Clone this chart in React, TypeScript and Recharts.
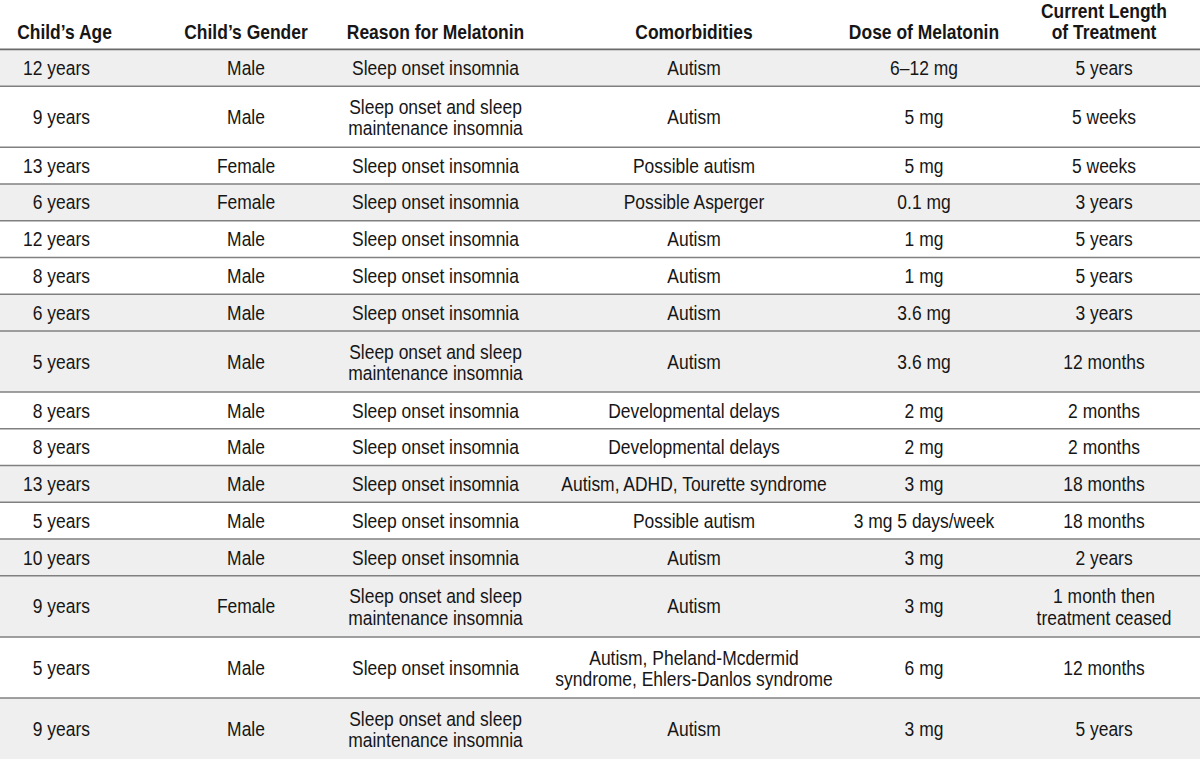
import React from 'react';
import { ComposedChart, XAxis, YAxis, Scatter, ReferenceArea, ReferenceLine } from 'recharts';

// ---- Table content ----
const headers = [
  'Child\u2019s Age',
  'Child\u2019s Gender',
  'Reason for Melatonin',
  'Comorbidities',
  'Dose of Melatonin',
  'Current Length\nof Treatment',
];

const ages = [
  '12 years', '9 years', '13 years', '6 years', '12 years', '8 years', '6 years', '5 years',
  '8 years', '8 years', '13 years', '5 years', '10 years', '9 years', '5 years', '9 years',
];

const genders = [
  'Male', 'Male', 'Female', 'Female', 'Male', 'Male', 'Male', 'Male',
  'Male', 'Male', 'Male', 'Male', 'Male', 'Female', 'Male', 'Male',
];

const SOI = 'Sleep onset insomnia';
const SOSM = 'Sleep onset and sleep\nmaintenance insomnia';
const reasons = [
  SOI, SOSM, SOI, SOI, SOI, SOI, SOI, SOSM,
  SOI, SOI, SOI, SOI, SOI, SOSM, SOI, SOSM,
];

const comorbidities = [
  'Autism', 'Autism', 'Possible autism', 'Possible Asperger', 'Autism', 'Autism', 'Autism', 'Autism',
  'Developmental delays', 'Developmental delays', 'Autism, ADHD, Tourette syndrome', 'Possible autism',
  'Autism', 'Autism', 'Autism, Pheland-Mcdermid\nsyndrome, Ehlers-Danlos syndrome', 'Autism',
];

const doses = [
  '6\u201312 mg', '5 mg', '5 mg', '0.1 mg', '1 mg', '1 mg', '3.6 mg', '3.6 mg',
  '2 mg', '2 mg', '3 mg', '3 mg 5 days/week', '3 mg', '3 mg', '6 mg', '3 mg',
];

const lengths = [
  '5 years', '5 weeks', '5 weeks', '3 years', '5 years', '5 years', '3 years', '12 months',
  '2 months', '2 months', '18 months', '18 months', '2 years', '1 month then\ntreatment ceased',
  '12 months', '5 years',
];

const rowShaded = [
  true, false, false, true, false, false, true, true,
  false, false, true, false, true, true, false, true,
];

const columns = [ages, genders, reasons, comorbidities, doses, lengths];

// ---- Layout ----
const W = 1200;
const H = 759;
const HEADER_H = 49.4;
const ROW_PAD = 12.4;
const ROW_LINE = 24.35;
const TEXT_GAP = 21.7;
const HEAD_GAP = 21.3;
const FONT = 19.5;
const SX = 0.895; // horizontal condensing
const COL_X = [64.5, 246, 435.5, 694, 924, 1104];
const COL_DATA_X = [90, 246, 435.5, 694, 924, 1104];
const COL_ANCHOR = ['end', 'middle', 'middle', 'middle', 'middle', 'middle'];

const TEXT_COLOR = '#161616';
const SHADE = '#efefef';
const RULE = '#808080';

const lineCounts = ages.map((_, i) =>
  Math.max(...columns.map((c) => c[i].split('\n').length))
);
const rowStarts: number[] = [];
const rowEnds: number[] = [];
{
  let y = HEADER_H;
  lineCounts.forEach((n) => {
    rowStarts.push(y);
    y += ROW_PAD + n * ROW_LINE;
    rowEnds.push(y);
  });
}

const cellData = columns.map((col, ci) =>
  col.map((text, ri) => ({
    x: COL_DATA_X[ci],
    y: (rowStarts[ri] + rowEnds[ri]) / 2,
    text,
  }))
);

const headerData = headers.map((text, ci) => ({ x: COL_X[ci], y: HEADER_H, text }));

const CellText = (anchor: string) => (props: any) => {
  const { cx, cy, payload } = props;
  const lines: string[] = payload.text.split('\n');
  const n = lines.length;
  const off = n > 1 ? 7.9 : 7.1;
  return (
    <g transform={`translate(${cx} 0) scale(${SX} 1)`}>
      <text textAnchor={anchor} fill={TEXT_COLOR} fontSize={FONT}>
        {lines.map((l, i) => (
          <tspan key={i} x={0} y={cy + off + (i - (n - 1) / 2) * TEXT_GAP}>
            {l}
          </tspan>
        ))}
      </text>
    </g>
  );
};

const HeaderText = (props: any) => {
  const { cx, cy, payload } = props;
  const lines: string[] = payload.text.split('\n');
  const n = lines.length;
  return (
    <g transform={`translate(${cx} 0) scale(${SX} 1)`}>
      <text textAnchor="middle" fill={TEXT_COLOR} fontSize={FONT} fontWeight="bold">
        {lines.map((l, i) => (
          <tspan key={i} x={0} y={cy - 10.6 - (n - 1 - i) * HEAD_GAP}>
            {l}
          </tspan>
        ))}
      </text>
    </g>
  );
};

export default function App() {
  return (
    <div
      style={{
        width: W,
        height: H,
        fontFamily: "'Liberation Sans', Arial, Helvetica, sans-serif",
        background: '#ffffff',
      }}
    >
      <style>{'body{margin:0;}'}</style>
      <ComposedChart width={W} height={H} margin={{ top: 0, right: 0, bottom: 0, left: 0 }}>
        <XAxis type="number" dataKey="x" domain={[0, W]} hide allowDataOverflow />
        <YAxis type="number" dataKey="y" domain={[0, H]} reversed hide allowDataOverflow width={0} />
        {rowStarts.map((s, i) =>
          rowShaded[i] ? (
            <ReferenceArea
              key={'a' + i}
              x1={0}
              x2={W}
              y1={s}
              y2={rowEnds[i]}
              fill={SHADE}
              fillOpacity={1}
              stroke="none"
              ifOverflow="visible"
            />
          ) : null
        )}
        <ReferenceLine y={HEADER_H} stroke="#6a6a6a" strokeWidth={1.6} ifOverflow="visible" />
        {rowEnds.slice(0, -1).map((e, i) => (
          <ReferenceLine key={'l' + i} y={e} stroke={RULE} strokeWidth={1.5} ifOverflow="visible" />
        ))}
        <Scatter data={headerData} shape={HeaderText} isAnimationActive={false} />
        {cellData.map((d, ci) => (
          <Scatter
            key={'c' + ci}
            data={d}
            shape={CellText(COL_ANCHOR[ci])}
            isAnimationActive={false}
          />
        ))}
      </ComposedChart>
    </div>
  );
}
